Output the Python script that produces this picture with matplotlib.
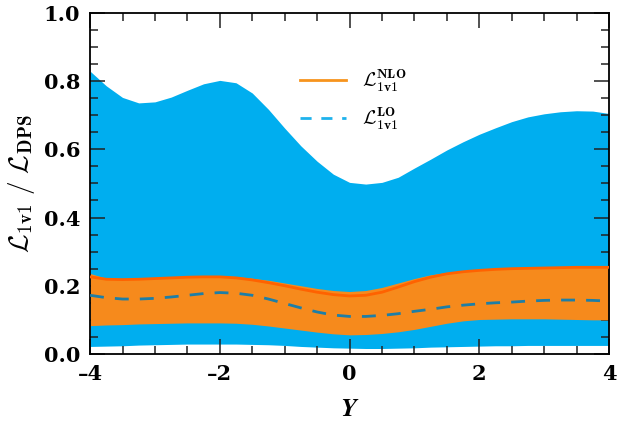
import matplotlib

matplotlib.use("Agg")
import matplotlib.pyplot as plt
from matplotlib.lines import Line2D
from matplotlib.ticker import MultipleLocator
import numpy as np

# rapidity grid and ratio curves
rapidity = [-4.0, -3.75, -3.5, -3.25, -3.0, -2.75, -2.5, -2.25, -2.0, -1.75, -1.5,
            -1.25, -1.0, -0.75, -0.5, -0.25, 0.0, 0.25, 0.5, 0.75, 1.0, 1.25,
            1.5, 1.75, 2.0, 2.25, 2.5, 2.75, 3.0, 3.25, 3.5, 3.75, 4.0]
lo_band_upper = [0.829, 0.786, 0.752, 0.736, 0.739, 0.753, 0.773, 0.792, 0.802, 0.795, 0.765,
                 0.717, 0.662, 0.610, 0.565, 0.527, 0.503, 0.498, 0.503, 0.518, 0.545, 0.571,
                 0.598, 0.622, 0.644, 0.663, 0.681, 0.695, 0.704, 0.710, 0.713, 0.712, 0.705]
lo_band_lower = [0.022, 0.023, 0.024, 0.026, 0.027, 0.028, 0.029, 0.029, 0.029, 0.029, 0.028,
                 0.027, 0.025, 0.022, 0.020, 0.018, 0.017, 0.016, 0.016, 0.017, 0.018, 0.020,
                 0.021, 0.022, 0.023, 0.024, 0.024, 0.025, 0.025, 0.025, 0.025, 0.025, 0.025]
nlo_band_upper = [0.236, 0.222, 0.220, 0.222, 0.224, 0.226, 0.228, 0.229, 0.229, 0.227, 0.222,
                  0.216, 0.208, 0.200, 0.192, 0.186, 0.183, 0.186, 0.195, 0.208, 0.221, 0.232,
                  0.239, 0.244, 0.247, 0.250, 0.252, 0.253, 0.254, 0.255, 0.256, 0.256, 0.256]
nlo_band_lower = [0.083, 0.085, 0.086, 0.088, 0.089, 0.090, 0.091, 0.091, 0.091, 0.090, 0.087,
                  0.082, 0.076, 0.070, 0.064, 0.059, 0.056, 0.057, 0.060, 0.065, 0.072, 0.081,
                  0.090, 0.097, 0.101, 0.102, 0.103, 0.103, 0.103, 0.102, 0.101, 0.100, 0.100]
nlo_central = [0.226, 0.219, 0.218, 0.219, 0.221, 0.223, 0.225, 0.226, 0.226, 0.223, 0.217,
               0.209, 0.200, 0.190, 0.181, 0.174, 0.170, 0.172, 0.181, 0.196, 0.212, 0.225,
               0.235, 0.241, 0.245, 0.248, 0.250, 0.251, 0.252, 0.253, 0.254, 0.254, 0.254]
lo_central = [0.172, 0.165, 0.161, 0.161, 0.163, 0.167, 0.172, 0.177, 0.180, 0.178, 0.172,
              0.161, 0.148, 0.135, 0.123, 0.114, 0.110, 0.110, 0.113, 0.118, 0.125, 0.131,
              0.138, 0.143, 0.147, 0.150, 0.152, 0.155, 0.157, 0.158, 0.158, 0.157, 0.155]

x_ticks = [-4, -2, 0, 2, 4]
x_tick_labels = ["\u20134", "\u20132", "0", "2", "4"]
y_ticks = [0.0, 0.2, 0.4, 0.6, 0.8, 1.0]
y_tick_labels = ["0.0", "0.2", "0.4", "0.6", "0.8", "1.0"]

BLUE = "#00AEEF"
ORANGE = "#F68A1C"

plt.rcParams["mathtext.fontset"] = "cm"

fig = plt.figure(figsize=(6.17, 4.28), dpi=100)
ax = fig.add_axes([0.146, 0.173, 0.841, 0.797])

x = np.array(rapidity)
ax.fill_between(x, lo_band_lower, lo_band_upper, color=BLUE, lw=0, zorder=1)
ax.fill_between(x, nlo_band_lower, nlo_band_upper, color=ORANGE, lw=0, zorder=2)
ax.plot(x, nlo_central, color="#FF6200", lw=2.0, zorder=3)
ax.plot(x, lo_central, color="#1E7EA6", lw=2.0, dashes=(5, 4), zorder=3)

tick_font = dict(family="DejaVu Serif", weight="bold", size=15)
ax.set_xlim(-4, 4)
ax.set_ylim(0, 1)
ax.set_xticks(x_ticks)
ax.set_xticklabels(x_tick_labels, **tick_font)
ax.set_yticks(y_ticks)
ax.set_yticklabels(y_tick_labels, **tick_font)
ax.xaxis.set_minor_locator(MultipleLocator(0.5))
ax.yaxis.set_minor_locator(MultipleLocator(0.05))
ax.tick_params(which="both", direction="in", top=True, right=True, width=1.1, color="#222222")
ax.tick_params(which="major", length=11, pad=7)
ax.tick_params(which="minor", length=5.5)
for spine in ax.spines.values():
    spine.set_linewidth(1.3)

ax.set_xlabel(r"$\mathbfit{Y}$", fontsize=19, math_fontfamily="stix", labelpad=9)
ax.set_ylabel(r"$\mathcal{L}_{\mathbf{1v1}}\ \mathbf{/}\ \mathcal{L}_{\mathbf{DPS}}$",
              fontsize=19.5, labelpad=5)

handles = [
    Line2D([], [], color="#F7941D", lw=2.0),
    Line2D([], [], color="#1EB2EC", lw=2.0, dashes=(4, 3.5)),
]
labels = [r"$\mathcal{L}_{\mathbf{1v1}}^{\mathbf{NLO}}$",
          r"$\mathcal{L}_{\mathbf{1v1}}^{\mathbf{LO}}$"]
ax.legend(handles, labels, loc="upper left", bbox_to_anchor=(0.37, 0.89),
          frameon=False, fontsize=14, handlelength=2.4, labelspacing=0.6)

fig.savefig("out.png", dpi=100)
